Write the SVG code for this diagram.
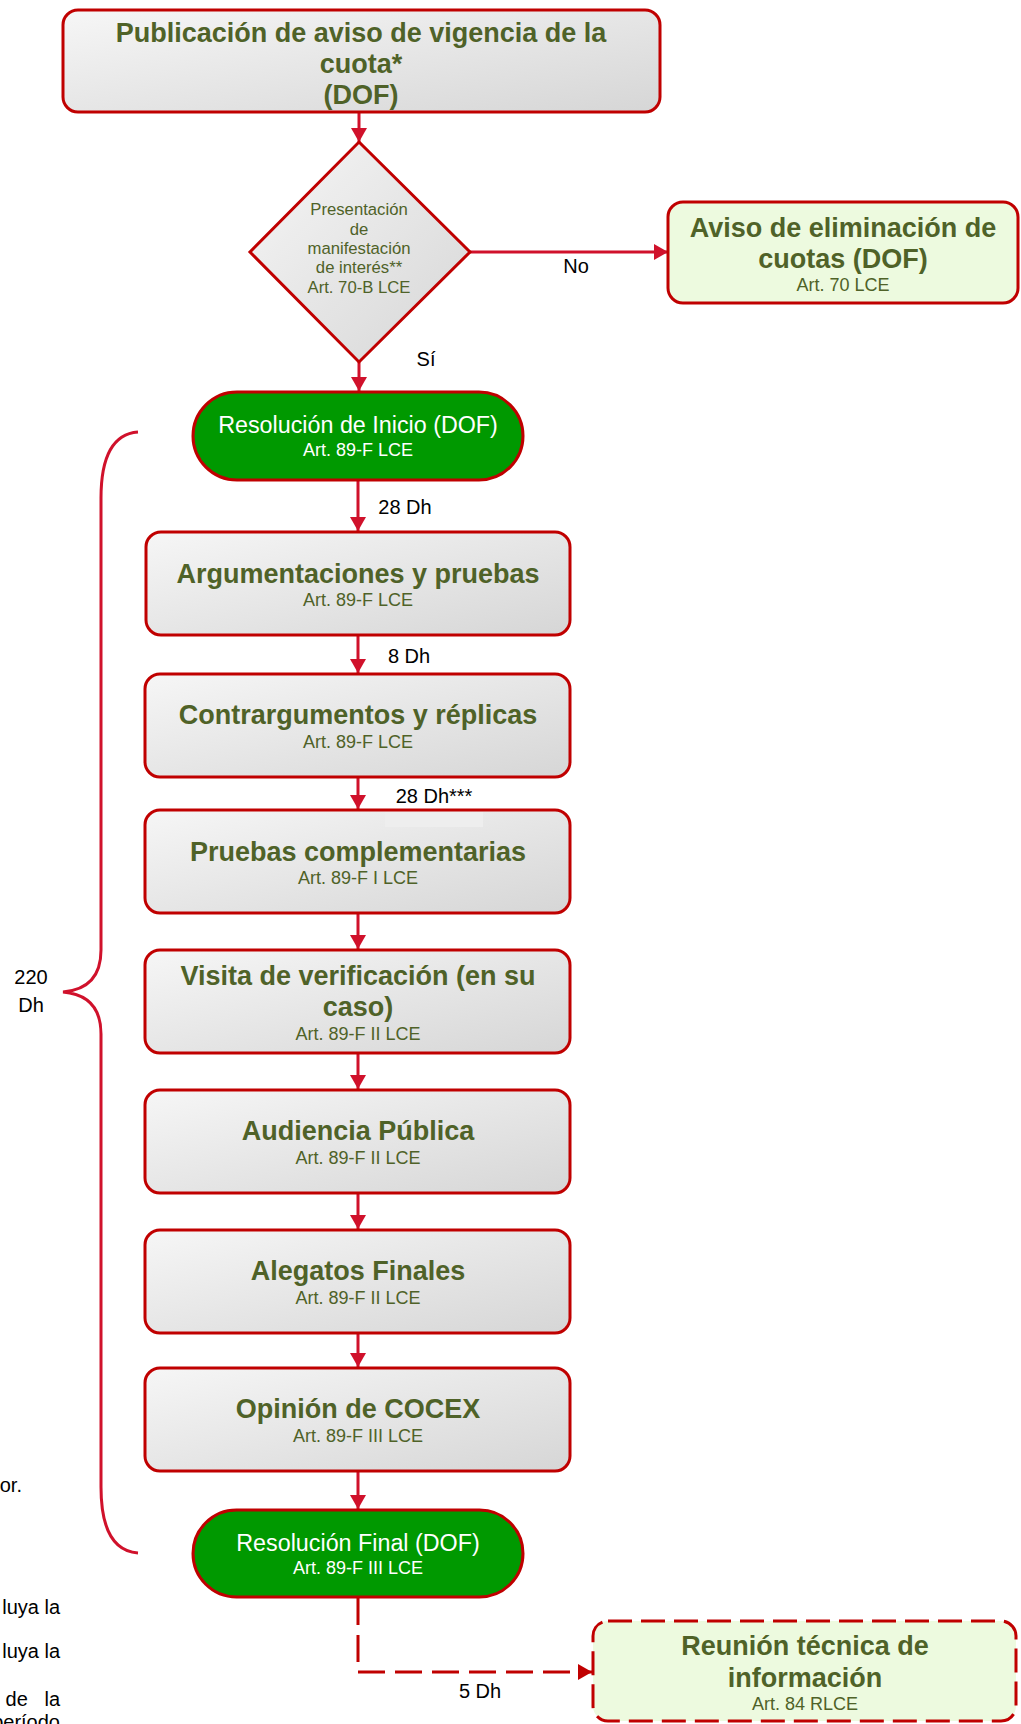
<svg xmlns="http://www.w3.org/2000/svg" width="1021" height="1724" viewBox="0 0 1021 1724">
<defs>
  <linearGradient id="gray" x1="0" y1="0" x2="1" y2="1">
    <stop offset="0" stop-color="#f6f6f6"/>
    <stop offset="1" stop-color="#d6d6d6"/>
  </linearGradient>
  <marker id="ah" viewBox="0 0 14 16" refX="14" refY="8" markerWidth="14" markerHeight="16" markerUnits="userSpaceOnUse" orient="auto">
    <path d="M0,0 L14,8 L0,16 z" fill="#D0112B"/>
  </marker>
  <marker id="ahd" viewBox="0 0 14 16" refX="14" refY="8" markerWidth="14" markerHeight="16" markerUnits="userSpaceOnUse" orient="auto">
    <path d="M0,0 L14,8 L0,16 z" fill="#C00000"/>
  </marker>
</defs>
<style>
  .box { fill: url(#gray); stroke: #C00000; stroke-width: 3; }
  .lg { fill: #EDFADF; stroke: #C00000; stroke-width: 3; }
  .term { fill: #009900; stroke: #C00000; stroke-width: 3; }
  .t { font-family: "Liberation Sans", Arial, sans-serif; font-weight: bold; font-size: 27px; fill: #4F6228; text-anchor: middle; }
  .s { font-family: "Liberation Sans", Arial, sans-serif; font-size: 18px; fill: #4F6228; text-anchor: middle; }
  .d { font-family: "Liberation Sans", Arial, sans-serif; font-size: 16.7px; fill: #4F6228; text-anchor: middle; }
  .w1 { font-family: "Liberation Sans", Arial, sans-serif; font-size: 23.3px; fill: #ffffff; text-anchor: middle; }
  .w2 { font-family: "Liberation Sans", Arial, sans-serif; font-size: 18px; fill: #ffffff; text-anchor: middle; }
  .lbl { font-family: "Liberation Sans", Arial, sans-serif; font-size: 20px; fill: #000000; text-anchor: middle; }
  .note { font-family: "Liberation Sans", Arial, sans-serif; font-size: 20px; fill: #000000; text-anchor: end; }
  .c { fill: none; stroke: #D0112B; stroke-width: 3; }
</style>
<rect width="1021" height="1724" fill="#ffffff"/>

<g id="connectors">
  <line class="c" x1="359" y1="113" x2="359" y2="142" marker-end="url(#ah)"/>
  <line class="c" x1="470" y1="252" x2="668" y2="252" marker-end="url(#ah)"/>
  <line class="c" x1="359" y1="362" x2="359" y2="391" marker-end="url(#ah)"/>
  <line class="c" x1="358" y1="480" x2="358" y2="531" marker-end="url(#ah)"/>
  <line class="c" x1="358" y1="635" x2="358" y2="673" marker-end="url(#ah)"/>
  <line class="c" x1="358" y1="777" x2="358" y2="809" marker-end="url(#ah)"/>
  <line class="c" x1="358" y1="913" x2="358" y2="949" marker-end="url(#ah)"/>
  <line class="c" x1="358" y1="1053" x2="358" y2="1089" marker-end="url(#ah)"/>
  <line class="c" x1="358" y1="1193" x2="358" y2="1229" marker-end="url(#ah)"/>
  <line class="c" x1="358" y1="1333" x2="358" y2="1367" marker-end="url(#ah)"/>
  <line class="c" x1="358" y1="1471" x2="358" y2="1509" marker-end="url(#ah)"/>
  <path d="M358,1598 L358,1672 L592,1672" fill="none" stroke="#C00000" stroke-width="3" stroke-dasharray="27 10" marker-end="url(#ahd)"/>
  <path class="c" d="M138,432 C112,434 101,458 101,498 L101,950 C101,978 86,990 63,992 C86,994 101,1006 101,1034 L101,1487 C101,1527 112,1551 138,1553"/>
  <text class="lbl" x="576" y="273">No</text>
  <text class="lbl" x="426" y="366">Sí</text>
  <text class="lbl" x="405" y="514">28 Dh</text>
  <text class="lbl" x="409" y="663">8 Dh</text>
  <text class="lbl" x="434" y="803">28 Dh***</text>
  <text class="lbl" x="480" y="1698">5 Dh</text>
  <text class="lbl" x="31" y="984">220</text>
  <text class="lbl" x="31" y="1012">Dh</text>
</g>

<g id="n-publicacion">
  <rect class="box" x="63" y="10" width="597" height="102" rx="15"/>
  <text class="t" x="361" y="42">Publicación de aviso de vigencia de la</text>
  <text class="t" x="361" y="73">cuota*</text>
  <text class="t" x="361" y="104">(DOF)</text>
</g>

<g id="n-decision">
  <polygon class="box" points="359,142 470,252 359,362 250,252"/>
  <text class="d" x="359" y="215">Presentación</text>
  <text class="d" x="359" y="235">de</text>
  <text class="d" x="359" y="254">manifestación</text>
  <text class="d" x="359" y="273">de interés**</text>
  <text class="d" x="359" y="293">Art. 70-B LCE</text>
</g>

<g id="n-eliminacion">
  <rect class="lg" x="668" y="202" width="350" height="101" rx="15"/>
  <text class="t" x="843" y="237">Aviso de eliminación de</text>
  <text class="t" x="843" y="268">cuotas (DOF)</text>
  <text class="s" x="843" y="291">Art. 70 LCE</text>
</g>

<g id="n-inicio">
  <rect class="term" x="193" y="392" width="330" height="88" rx="44"/>
  <text class="w1" x="358" y="433">Resolución de Inicio (DOF)</text>
  <text class="w2" x="358" y="456">Art. 89-F LCE</text>
</g>

<g id="n-argumentaciones">
  <rect class="box" x="146" y="532" width="424" height="103" rx="15"/>
  <text class="t" x="358" y="583">Argumentaciones y pruebas</text>
  <text class="s" x="358" y="606">Art. 89-F LCE</text>
</g>

<g id="n-contrargumentos">
  <rect class="box" x="145" y="674" width="425" height="103" rx="15"/>
  <text class="t" x="358" y="724">Contrargumentos y réplicas</text>
  <text class="s" x="358" y="748">Art. 89-F LCE</text>
</g>

<g id="n-pruebas">
  <rect class="box" x="145" y="810" width="425" height="103" rx="15"/>
  <rect x="385" y="812" width="98" height="15" fill="#eeeeee"/>
  <text class="t" x="358" y="861">Pruebas complementarias</text>
  <text class="s" x="358" y="884">Art. 89-F I LCE</text>
</g>

<g id="n-visita">
  <rect class="box" x="145" y="950" width="425" height="103" rx="15"/>
  <text class="t" x="358" y="985">Visita de verificación (en su</text>
  <text class="t" x="358" y="1016">caso)</text>
  <text class="s" x="358" y="1040">Art. 89-F II LCE</text>
</g>

<g id="n-audiencia">
  <rect class="box" x="145" y="1090" width="425" height="103" rx="15"/>
  <text class="t" x="358" y="1140">Audiencia Pública</text>
  <text class="s" x="358" y="1164">Art. 89-F II LCE</text>
</g>

<g id="n-alegatos">
  <rect class="box" x="145" y="1230" width="425" height="103" rx="15"/>
  <text class="t" x="358" y="1280">Alegatos Finales</text>
  <text class="s" x="358" y="1304">Art. 89-F II LCE</text>
</g>

<g id="n-cocex">
  <rect class="box" x="145" y="1368" width="425" height="103" rx="15"/>
  <text class="t" x="358" y="1418">Opinión de COCEX</text>
  <text class="s" x="358" y="1442">Art. 89-F III LCE</text>
</g>

<g id="n-final">
  <rect class="term" x="193" y="1510" width="330" height="87" rx="43.5"/>
  <text class="w1" x="358" y="1551">Resolución Final (DOF)</text>
  <text class="w2" x="358" y="1574">Art. 89-F III LCE</text>
</g>

<g id="n-reunion">
  <rect class="lg" x="593" y="1621" width="423" height="100" rx="15" stroke-dasharray="24 9"/>
  <text class="t" x="805" y="1655">Reunión técnica de</text>
  <text class="t" x="805" y="1687">información</text>
  <text class="s" x="805" y="1710">Art. 84 RLCE</text>
</g>

<g id="notes">
  <text class="note" x="22" y="1492">or.</text>
  <text class="note" x="60" y="1614">luya la</text>
  <text class="note" x="60" y="1658">luya la</text>
  <text class="note" x="60" y="1706" xml:space="preserve">de   la</text>
  <text class="note" x="60" y="1729">período</text>
</g>
</svg>
